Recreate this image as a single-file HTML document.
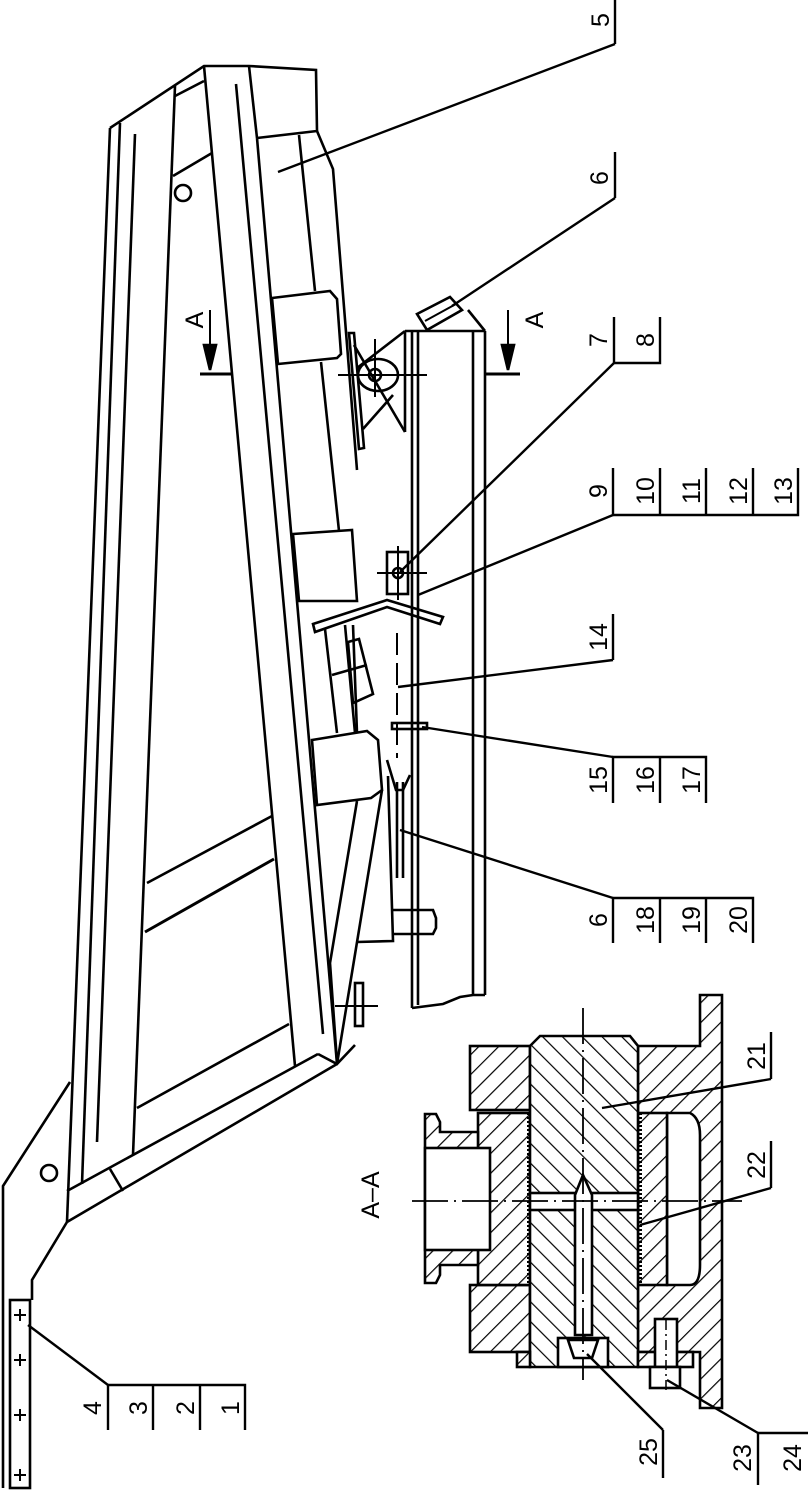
<!DOCTYPE html>
<html><head><meta charset="utf-8"><style>
html,body{margin:0;padding:0;background:#fff;}
svg{display:block;}
text{font-family:"Liberation Sans",sans-serif;font-size:25px;fill:#000;}
</style></head><body>
<svg width="808" height="1492" viewBox="0 0 808 1492" xmlns="http://www.w3.org/2000/svg">
<defs>
<pattern id="h1" patternUnits="userSpaceOnUse" width="14" height="14" patternTransform="rotate(45)">
<rect width="14" height="14" fill="#fff"/><line x1="0" y1="0" x2="0" y2="14" stroke="#000" stroke-width="2.4"/></pattern>
<pattern id="h2" patternUnits="userSpaceOnUse" width="14" height="14" patternTransform="rotate(-45)">
<rect width="14" height="14" fill="#fff"/><line x1="0" y1="0" x2="0" y2="14" stroke="#000" stroke-width="2.4"/></pattern>
</defs>
<g fill="none" stroke="#000" stroke-width="2.6" stroke-linejoin="miter">
<polyline points="110,128 204,66 249,66 316,70 317,131 257,138"/>
<line x1="110" y1="128" x2="67" y2="1222"/>
<line x1="120" y1="123" x2="82" y2="1184"/>
<line x1="135" y1="134" x2="97" y2="1142"/>
<line x1="175" y1="86" x2="133" y2="1155"/>
<line x1="175" y1="96" x2="204" y2="81"/>
<line x1="173" y1="176" x2="212" y2="153"/>
<circle cx="183" cy="193" r="8"/>
<line x1="204" y1="66" x2="295" y2="1066"/>
<line x1="236" y1="84" x2="323" y2="1034"/>
<line x1="249" y1="66" x2="257" y2="138"/>
<line x1="257" y1="138" x2="337" y2="1064"/>
<polyline points="317,131 333,169 357,470"/>
<line x1="299" y1="135" x2="315" y2="291"/>
<polygon points="272,298 330,291 337,299 341,354 337,358 278,364"/>
<line x1="321" y1="362" x2="339" y2="531"/>
<polygon points="293,534 352,530 357,601 299,601"/>
<polygon points="349,333 354,333 364,448 359,449"/>
<line x1="357" y1="368" x2="405" y2="331"/>
<line x1="354" y1="345" x2="405" y2="432"/>
<line x1="363" y1="429" x2="393" y2="395"/>
<circle cx="375" cy="375" r="6"/>
<ellipse cx="378" cy="375" rx="20" ry="16"/>
<line x1="338" y1="375" x2="427" y2="375" stroke-width="2"/>
<line x1="375" y1="339" x2="375" y2="397" stroke-width="2"/>
<line x1="67" y1="1191" x2="318" y2="1054"/>
<line x1="67" y1="1222" x2="337" y2="1064"/>
<polyline points="318,1054 337,1064 355,1045"/>
<polyline points="110,1169 123,1191"/>
<line x1="147" y1="883" x2="272" y2="816"/>
<line x1="145" y1="932" x2="274" y2="859" stroke-width="3"/>
<line x1="137" y1="1108" x2="289" y2="1024"/>
<polyline points="357,801 330,963 337,1062"/>
<line x1="382" y1="790" x2="337" y2="1064"/>
<polygon points="312,740 367,731 378,740 382,790 371,798 317,805"/>
<polygon points="348,642 359,639 373,694 353,703"/>
<line x1="325" y1="629" x2="337" y2="733"/>
<line x1="345" y1="625" x2="355" y2="733"/>
<line x1="332" y1="675" x2="367" y2="665"/>
<line x1="353" y1="625" x2="357" y2="733"/>
<polyline points="388,776 393,941 357,942"/>
<line x1="397" y1="782" x2="397" y2="878"/>
<line x1="403" y1="782" x2="403" y2="878"/>
<polyline points="393,910 433,910 436,918 436,928 433,934 393,934"/>
<rect x="355" y="983" width="8" height="43"/>
<line x1="335" y1="1006" x2="378" y2="1006" stroke-width="2"/>
<polyline points="70,1082 3,1186 3,1488"/>
<polyline points="67,1222 32,1280 32,1300"/>
<circle cx="49" cy="1173" r="8"/>
<rect x="10" y="1300" width="20" height="188"/>
<g stroke-width="2"><line x1="14" y1="1315" x2="26" y2="1315"/><line x1="20" y1="1309" x2="20" y2="1321"/>
<line x1="14" y1="1360" x2="26" y2="1360"/><line x1="20" y1="1354" x2="20" y2="1366"/>
<line x1="14" y1="1415" x2="26" y2="1415"/><line x1="20" y1="1409" x2="20" y2="1421"/>
<line x1="14" y1="1475" x2="26" y2="1475"/><line x1="20" y1="1469" x2="20" y2="1481"/></g>
<line x1="405" y1="331" x2="485" y2="331"/>
<line x1="405" y1="331" x2="405" y2="432"/>
<line x1="412" y1="331" x2="412" y2="1008"/>
<line x1="418" y1="331" x2="418" y2="1005"/>
<line x1="473" y1="331" x2="473" y2="995"/>
<line x1="485" y1="331" x2="485" y2="995"/>
<polyline points="412,1008 443,1004 460,997 473,995 485,995"/>
<line x1="485" y1="331" x2="468" y2="310"/>
<polygon points="417,314 450,297 462,310 427,330"/>
<line x1="425" y1="321" x2="456" y2="304" stroke-width="2"/>
<rect x="387" y="552" width="21" height="42"/>
<circle cx="398" cy="573" r="5"/>
<line x1="377" y1="573" x2="427" y2="573" stroke-width="2"/>
<line x1="398" y1="546" x2="398" y2="600" stroke-width="2"/>
<polygon points="313,624 387,600 443,617 440,624 387,607 315,632"/>
<line x1="397" y1="633" x2="397" y2="758" stroke-dasharray="22,8" stroke-width="2"/>
<rect x="392" y="723" width="35" height="6"/>
<polyline points="387,760 396,790 403,790 410,775"/>
<line x1="210" y1="310" x2="210" y2="350" stroke-width="2"/>
<polygon points="204,345 216,345 210,370" fill="#000"/>
<line x1="200" y1="374" x2="232" y2="374" stroke-width="3"/>
<line x1="508" y1="310" x2="508" y2="350" stroke-width="2"/>
<polygon points="502,345 514,345 508,370" fill="#000"/>
<line x1="485" y1="374" x2="520" y2="374" stroke-width="3"/>
</g>
<g stroke="#000" stroke-width="2.6">
<polygon points="638,1046 700,1046 700,995 722,995 722,1408 700,1408 700,1352 638,1352" fill="url(#h1)"/>
<path d="M667,1113 L690,1113 Q700,1118 700,1135 L700,1265 Q700,1285 690,1285 L667,1285 Z" fill="#fff"/>
<rect x="638" y="1113" width="29" height="172" fill="url(#h1)"/>
<rect x="470" y="1046" width="60" height="64" fill="url(#h1)"/>
<rect x="470" y="1285" width="60" height="67" fill="url(#h1)"/>
<rect x="478" y="1113" width="52" height="172" fill="url(#h1)"/>
<path d="M425,1114 L436,1114 L440,1122 L440,1132 L478,1132 L478,1265 L440,1265 L440,1275 L436,1283 L425,1283 Z" fill="url(#h1)"/>
<rect x="425" y="1148" width="65" height="102" fill="#fff"/>
<polygon points="530,1046 540,1036 630,1036 638,1046 638,1367 530,1367" fill="url(#h2)"/>
<rect x="517" y="1352" width="13" height="15" fill="url(#h1)"/>
<rect x="638" y="1352" width="55" height="15" fill="url(#h1)"/>
<rect x="530" y="1193" width="108" height="17" fill="#fff"/>
<path d="M575,1195 L583,1175 L592,1195 L592,1335 L575,1335 Z" fill="#fff"/>
<rect x="558" y="1338" width="50" height="29" fill="#fff"/>
<polygon points="568,1340 598,1340 592,1358 574,1358" fill="#fff"/>
<rect x="655" y="1319" width="22" height="48" fill="#fff"/>
<rect x="650" y="1367" width="30" height="21" fill="#fff"/>
</g>
<g stroke="#000" fill="none">
<line x1="529" y1="1113" x2="529" y2="1285" stroke-width="4" stroke-dasharray="2,2"/>
<line x1="640" y1="1113" x2="640" y2="1285" stroke-width="4" stroke-dasharray="2,2"/>
<line x1="412" y1="1201" x2="742" y2="1201" stroke-width="1.8" stroke-dasharray="36,6,2,6"/>
<line x1="583" y1="1008" x2="583" y2="1380" stroke-width="1.8" stroke-dasharray="36,6,2,6"/>
<line x1="666" y1="1320" x2="666" y2="1390" stroke-width="1.5" stroke-dasharray="10,4,2,4"/>
</g>
<g stroke="#000" stroke-width="2.4" fill="none">
<line x1="615" y1="0" x2="615" y2="44"/><line x1="615" y1="44" x2="278" y2="172"/>
<line x1="615" y1="152" x2="615" y2="198"/><line x1="615" y1="198" x2="452" y2="306"/>
<polyline points="614,317 614,363 660,363 660,317"/><line x1="614" y1="363" x2="400" y2="572"/>
<polyline points="613,468 613,515 798,515 798,468"/><line x1="660" y1="468" x2="660" y2="515"/><line x1="706" y1="468" x2="706" y2="515"/><line x1="753" y1="468" x2="753" y2="515"/>
<line x1="613" y1="515" x2="418" y2="595"/>
<line x1="613" y1="614" x2="613" y2="660"/><line x1="613" y1="660" x2="398" y2="687"/>
<polyline points="613,803 613,757 706,757 706,803"/><line x1="660" y1="757" x2="660" y2="803"/><line x1="613" y1="757" x2="422" y2="727"/>
<polyline points="613,943 613,898 753,898 753,943"/><line x1="660" y1="898" x2="660" y2="943"/><line x1="706" y1="898" x2="706" y2="943"/><line x1="613" y1="898" x2="400" y2="830"/>
<line x1="771" y1="1032" x2="771" y2="1079"/><line x1="771" y1="1079" x2="602" y2="1108"/>
<line x1="771" y1="1141" x2="771" y2="1188"/><line x1="771" y1="1188" x2="640" y2="1225"/>
<line x1="663" y1="1430" x2="663" y2="1478"/><line x1="663" y1="1430" x2="587" y2="1354"/>
<polyline points="758,1485 758,1433 808,1433"/><line x1="758" y1="1433" x2="667" y2="1380"/>
<polyline points="108,1430 108,1385 245,1385 245,1430"/><line x1="153" y1="1385" x2="153" y2="1430"/><line x1="200" y1="1385" x2="200" y2="1430"/>
<line x1="108" y1="1385" x2="28" y2="1325"/>
</g>
<g>
<text transform="translate(609,20) rotate(-90)" text-anchor="middle">5</text>
<text transform="translate(608,178) rotate(-90)" text-anchor="middle">6</text>
<text transform="translate(607,340) rotate(-90)" text-anchor="middle">7</text>
<text transform="translate(654,340) rotate(-90)" text-anchor="middle">8</text>
<text transform="translate(607,491) rotate(-90)" text-anchor="middle">9</text>
<text transform="translate(654,491) rotate(-90)" text-anchor="middle">10</text>
<text transform="translate(700,491) rotate(-90)" text-anchor="middle">11</text>
<text transform="translate(747,491) rotate(-90)" text-anchor="middle">12</text>
<text transform="translate(792,491) rotate(-90)" text-anchor="middle">13</text>
<text transform="translate(607,637) rotate(-90)" text-anchor="middle">14</text>
<text transform="translate(607,780) rotate(-90)" text-anchor="middle">15</text>
<text transform="translate(654,780) rotate(-90)" text-anchor="middle">16</text>
<text transform="translate(700,780) rotate(-90)" text-anchor="middle">17</text>
<text transform="translate(607,920) rotate(-90)" text-anchor="middle">6</text>
<text transform="translate(654,920) rotate(-90)" text-anchor="middle">18</text>
<text transform="translate(700,920) rotate(-90)" text-anchor="middle">19</text>
<text transform="translate(747,920) rotate(-90)" text-anchor="middle">20</text>
<text transform="translate(765,1056) rotate(-90)" text-anchor="middle">21</text>
<text transform="translate(765,1165) rotate(-90)" text-anchor="middle">22</text>
<text transform="translate(657,1452) rotate(-90)" text-anchor="middle">25</text>
<text transform="translate(751,1458) rotate(-90)" text-anchor="middle">23</text>
<text transform="translate(801,1458) rotate(-90)" text-anchor="middle">24</text>
<text transform="translate(101,1408) rotate(-90)" text-anchor="middle">4</text>
<text transform="translate(147,1408) rotate(-90)" text-anchor="middle">3</text>
<text transform="translate(194,1408) rotate(-90)" text-anchor="middle">2</text>
<text transform="translate(239,1408) rotate(-90)" text-anchor="middle">1</text>
<text transform="translate(203,320) rotate(-90)" text-anchor="middle">A</text>
<text transform="translate(543,320) rotate(-90)" text-anchor="middle">A</text>
<text transform="translate(379,1195) rotate(-90)" text-anchor="middle">A–A</text>
</g>
</svg>
</body></html>
